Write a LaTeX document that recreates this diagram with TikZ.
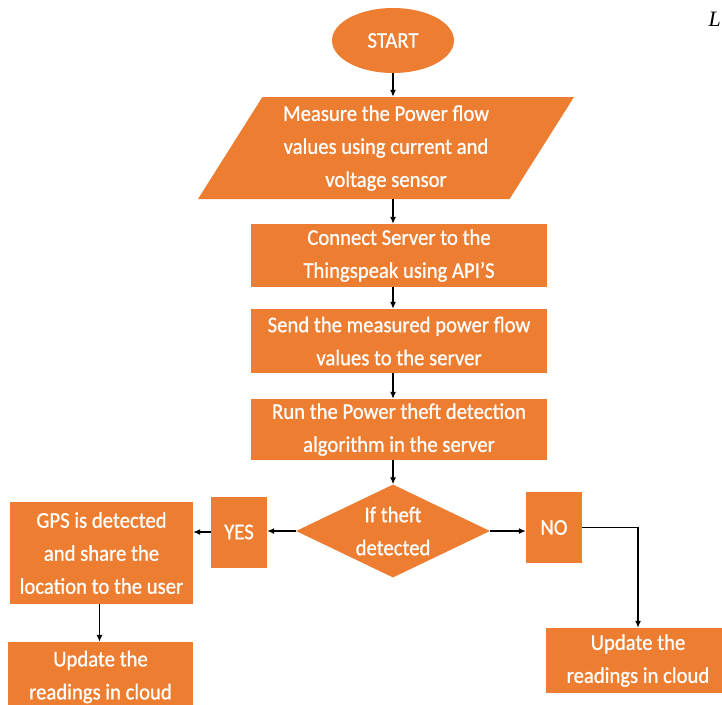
\documentclass[tikz,border=0pt]{standalone}
\usepackage{fontspec}
\setmainfont[FakeStretch=0.92,FakeBold=0.8]{Carlito}
\newfontfamily\pageserif{Liberation Serif}
\usetikzlibrary{arrows.meta,shapes.geometric}
\definecolor{flowor}{HTML}{ED7D31}

\begin{document}
\begin{tikzpicture}[x=1pt,y=-1pt,>={Latex[length=7pt,width=6pt]},
    flowtext/.style={text=white,font=\fontsize{22.5}{33}\selectfont,align=center,inner sep=0pt},
    procbox/.style={flowtext,fill=flowor,minimum width=296pt},
    sidebox/.style={flowtext,fill=flowor,minimum width=56pt,minimum height=71pt},
    flowline/.style={->,black,line width=1.2pt}]
  \useasboundingbox (0,0) rectangle (722,704);
  \clip (0,0) rectangle (722,704);
  \fill[white] (0,0) rectangle (722,704);
  \node[font=\pageserif\itshape\fontsize{22}{26}\selectfont,anchor=east,inner sep=0pt] (pageL) at (721,19) {L};
  % main column
  \node[flowtext,fill=flowor,ellipse,minimum width=122pt,minimum height=65pt] (start) at (393,40.5) {START};
  \node[flowtext,fill=flowor,trapezium,trapezium left angle=53,trapezium right angle=127,
        trapezium stretches body,minimum width=376pt,minimum height=102pt] (meas) at (386,148)
        {Measure the Power flow\\values using current and\\voltage sensor};
  \node[procbox,minimum height=63pt] (conn) at (399,255.5) {Connect Server to the\\Thingspeak using API'S};
  \node[procbox,minimum height=64pt] (send) at (399,341) {Send the measured power flow\\values to the server};
  \node[procbox,minimum height=61pt] (run) at (399,429.5) {Run the Power theft detection\\algorithm in the server};
  \node[diamond,fill=flowor,minimum width=194pt,minimum height=93pt,inner sep=0pt] (theft) at (393,531) {};
  \node[flowtext] (theftq) at (theft) {If theft\\detected};
  % branches
  \node[sidebox] (yes) at (239,532) {YES};
  \node[sidebox] (no) at (554,527.5) {NO};
  \node[flowtext,fill=flowor,minimum width=183pt,minimum height=102pt] (gps) at (101.5,553)
        {GPS is detected\\and share the\\location to the user};
  \node[flowtext,fill=flowor,minimum width=185pt,minimum height=70pt] (updl) at (100.5,677)
        {Update the\\readings in cloud};
  \node[flowtext,fill=flowor,minimum width=184pt,minimum height=65pt] (updr) at (638,660.5)
        {Update the\\readings in cloud};
  \draw[flowline] (start.south) -- (start.south |- meas.north);
  \draw[flowline] (start.south |- meas.south) -- (start.south |- conn.north);
  \draw[flowline] (start.south |- conn.south) -- (start.south |- send.north);
  \draw[flowline] (start.south |- send.south) -- (start.south |- run.north);
  \draw[flowline] (theft.north |- run.south) -- (theft.north);
  \draw[flowline] (theft.west) -- (theft.west -| yes.east);
  \draw[flowline] (yes.west) -- (yes.west -| gps.east);
  \draw[flowline] (theft.east) -- (theft.east -| no.west);
  \draw[flowline] (no.east) -| (updr.north);
  \draw[flowline] ([xshift=-2pt]gps.south) -- ([xshift=-2pt]gps.south |- updl.north);
\end{tikzpicture}
\end{document}
